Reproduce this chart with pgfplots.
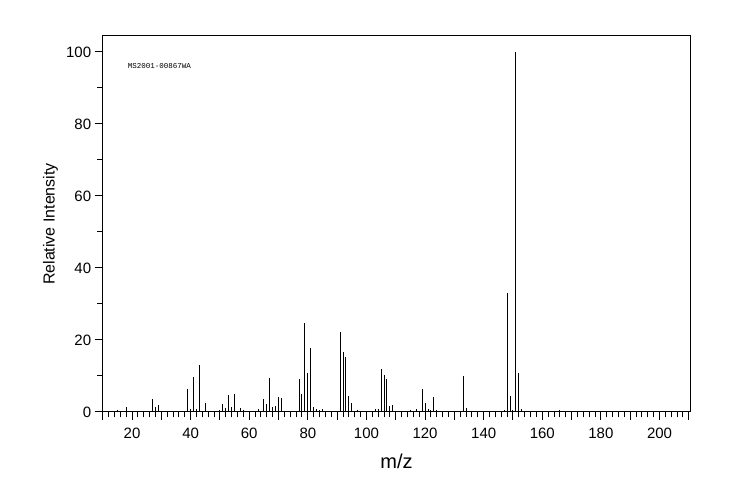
\documentclass[border=0pt]{standalone}
\usepackage{fontspec}
\setmainfont{Liberation Sans}
\newfontfamily\monofont{Liberation Mono}
\usepackage{pgfplots}
\pgfplotsset{compat=1.18}
\begin{document}
\begin{tikzpicture}[x=1pt,y=1pt]
\path[use as bounding box] (-102.7,-88) rectangle (641.3,412);
\begin{axis}[
  at={(0,0)}, anchor=south west,
  scale only axis, width=587.6pt, height=376pt,
  xmin=10, xmax=210.5, ymin=0, ymax=104.4,
  axis line style={line width=1pt},
  xtick={10,20,...,210},
  xticklabels={,20,,40,,60,,80,,100,,120,,140,,160,,180,,200,},
  minor x tick num=4,
  ytick={0,20,...,100}, minor ytick={10,30,...,90},
  tick align=outside, xtick pos=bottom, ytick pos=left,
  major tick length=8pt, minor tick length=5.5pt,
  tick style={black, line width=1pt},
  /pgf/number format/assume math mode=true,
  ticklabel style={font=\fontsize{15}{15}\selectfont},
  xticklabel style={yshift=-4pt},
  xlabel={m/z}, ylabel={Relative Intensity},
  xlabel style={font=\fontsize{20}{20}\selectfont, at={(axis description cs:0.5,-0.13)}, anchor=center},
  ylabel style={font=\fontsize{16}{16}\selectfont, at={(axis description cs:-0.089,0.5)}, anchor=center, rotate=0},
]
\addplot[ycomb, black, line width=1pt, mark=none] table {
x y
15 0.6
17 0.3
18 1.4
19 0.3
26 0.3
27 3.6
28 1.4
29 1.9
30 0.3
31 0.3
38 0.3
39 6.4
40 0.8
41 9.7
42 0.8
43 13.1
45 2.5
46 0.3
50 0.6
51 2.2
52 1.1
53 4.7
54 1.4
55 5.0
56 0.3
57 1.1
58 0.6
59 0.3
60 0.3
61 0.3
62 0.3
63 0.8
64 0.3
65 3.6
66 2.2
67 9.4
68 1.4
69 1.7
70 4.2
71 3.9
72 0.3
73 0.3
74 0.3
75 0.3
76 0.3
77 9.2
78 5.0
79 24.7
80 10.8
81 17.8
82 1.4
83 0.8
84 0.6
85 0.8
86 0.3
89 0.3
90 0.3
91 22.2
92 16.7
93 15.3
94 4.4
95 2.5
96 0.3
97 0.6
98 0.3
102 0.3
103 0.8
104 0.8
105 11.9
106 10.3
107 9.2
108 1.7
109 1.9
110 0.3
111 0.3
115 0.6
116 0.3
117 0.8
118 0.3
119 6.4
120 2.5
121 0.8
122 0.6
123 4.2
124 0.6
127 0.3
128 0.3
129 0.3
131 0.3
132 0.3
133 10.0
134 1.1
135 0.3
137 0.3
147 0.6
148 33.1
149 4.4
150 0.6
151 100
152 10.8
153 0.8
166 0.6
167 0.3
205 0.3
};
\node[anchor=west, font=\monofont\fontsize{7.5}{7.5}\selectfont] at (rel axis cs:0.037,0.921) {MS2001-00867WA};
\end{axis}
\end{tikzpicture}
\end{document}
